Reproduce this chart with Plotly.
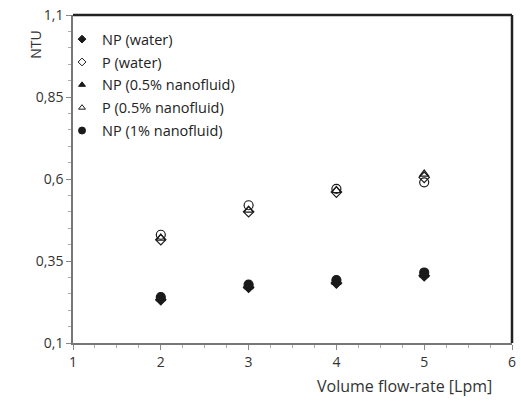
import plotly.graph_objects as go

flow = [2, 3, 4, 5]
np_water = [0.232, 0.270, 0.283, 0.305]
p_water = [0.415, 0.500, 0.560, 0.605]
np_05 = [0.235, 0.272, 0.285, 0.308]
p_05 = [0.420, 0.505, 0.565, 0.615]
np_1 = [0.240, 0.278, 0.292, 0.315]
p_1 = [0.430, 0.520, 0.570, 0.590]

names = ["NP (water)", "P (water)", "NP (0.5% nanofluid)", "P (0.5% nanofluid)",
         "NP (1% nanofluid)", "P (1% nanofluid)"]
series = [np_water, p_water, np_05, p_05, np_1, p_1]
symbols = ["diamond", "diamond-open", "triangle-up", "triangle-up-open", "circle", "circle-open"]
sizes = [8, 8, 8, 8, 9, 9]
show = [True, True, True, True, True, False]

y_ticks = [0.1, 0.35, 0.6, 0.85, 1.1]
y_labels = ["0,1", "0,35", "0,6", "0,85", "1,1"]
x_ticks = [1, 2, 3, 4, 5, 6]
x_labels = ["1", "2", "3", "4", "5", "6"]

fig = go.Figure()
for i, (nm, ys) in enumerate(zip(names, series)):
    fig.add_trace(go.Scatter(
        x=flow, y=ys, mode="markers", name=nm, showlegend=False,
        marker=dict(symbol=symbols[i], size=sizes[i], color="#1a1a1a",
                    line=dict(color="#1a1a1a", width=1.2)),
    ))
# legend entries with smaller symbols
for i, nm in enumerate(names):
    if not show[i]:
        continue
    fig.add_trace(go.Scatter(
        x=[None], y=[None], mode="markers", name=nm, showlegend=True,
        legendgroup=f"g{i}",
        marker=dict(symbol=symbols[i], size=6 if i < 4 else 7, color="#1a1a1a",
                    line=dict(color="#1a1a1a", width=1)),
    ))

axis_font = dict(family="Open Sans", size=14, color="#333")
fig.update_layout(
    width=521, height=401,
    margin=dict(l=73, r=5, t=15, b=58),
    paper_bgcolor="white", plot_bgcolor="white",
    font=dict(family="Open Sans", size=14, color="#222"),
    showlegend=True,
    legend=dict(x=-0.025, y=0.975, xanchor="left", yanchor="top",
                bgcolor="rgba(0,0,0,0)", font=dict(size=14.5, color="#222"),
                itemwidth=30, tracegroupgap=1),
    xaxis=dict(range=[1, 6], tickvals=x_ticks, ticktext=x_labels,
               showgrid=False, zeroline=False, showline=True, linecolor="#777",
               linewidth=1.5, ticks="outside", ticklen=5, tickcolor="#888",
               tickfont=axis_font,
               minor=dict(dtick=0.25, ticks="outside", ticklen=3, tickcolor="#aaa")),
    yaxis=dict(range=[0.1, 1.1], tickvals=y_ticks, ticktext=y_labels,
               showgrid=False, zeroline=False, showline=True, linecolor="#777",
               linewidth=1.5, ticks="outside", ticklen=5, tickcolor="#888",
               tickfont=axis_font,
               minor=dict(tick0=0.1, dtick=0.05, ticks="outside", ticklen=3, tickcolor="#aaa")),
    annotations=[
        dict(text="NTU", x=-0.086, y=0.91, xref="paper", yref="paper",
             xanchor="center", yanchor="middle",
             textangle=-90, showarrow=False, font=dict(family="Open Sans", size=14, color="#333")),
        dict(text="Volume flow-rate [Lpm]", x=0.96, y=-0.092, xref="paper", yref="paper",
             xanchor="right", yanchor="top", showarrow=False,
             font=dict(family="Open Sans", size=16, color="#333")),
    ],
    shapes=[
        dict(type="line", xref="paper", yref="paper", x0=0, x1=1, y0=1, y1=1,
             line=dict(color="#222", width=2.5)),
        dict(type="line", xref="paper", yref="paper", x0=1, x1=1, y0=0, y1=1,
             line=dict(color="#222", width=2.5)),
    ],
)

fig.write_html("out.html")
